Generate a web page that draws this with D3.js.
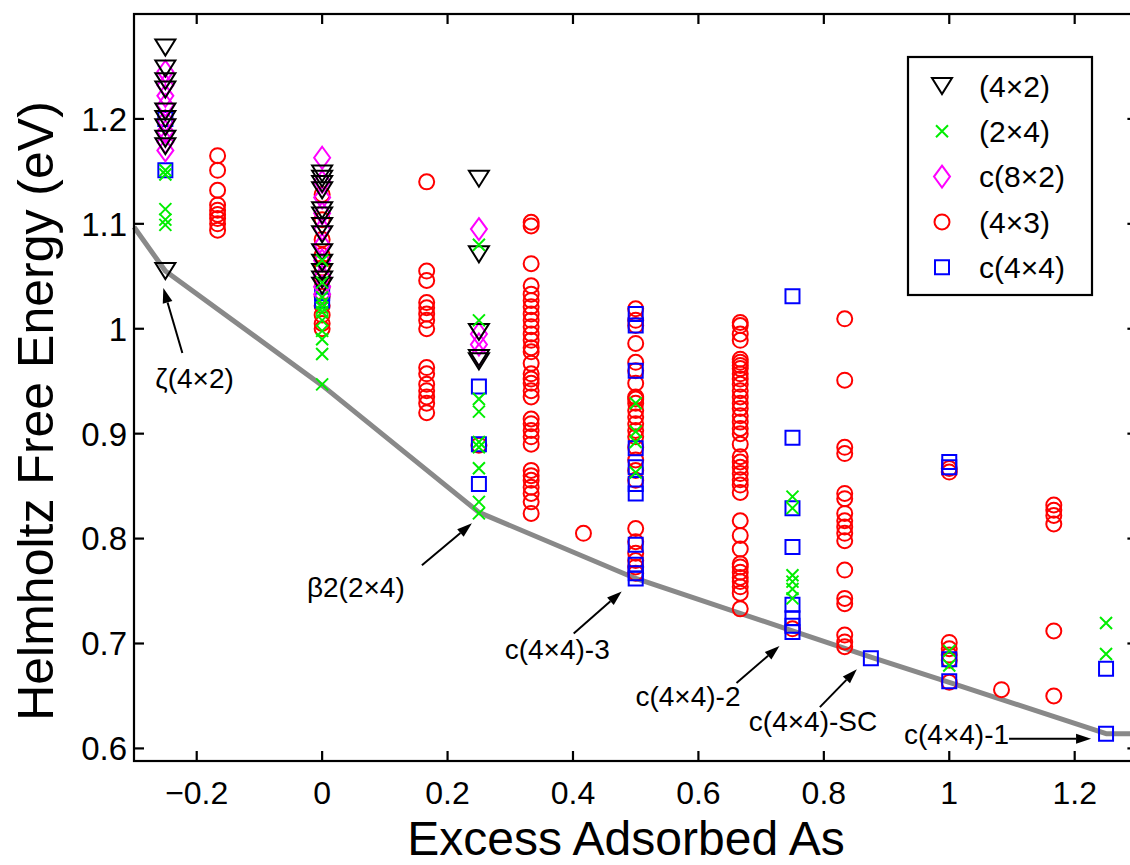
<!DOCTYPE html>
<html>
<head>
<meta charset="utf-8">
<script src="https://cdn.jsdelivr.net/npm/d3@7"></script>
<style>
  html, body { margin: 0; padding: 0; background: #fff; overflow: hidden; }
  svg { display: block; font-family: 'Liberation Sans', Arial, Helvetica, sans-serif; }
</style>
</head>
<body>
<div id="chart"></div>
<script>
// axis ticks
const xTicks = [-0.2, 0, 0.2, 0.4, 0.6, 0.8, 1, 1.2]
const yTicks = [0.6, 0.7, 0.8, 0.9, 1, 1.1, 1.2]

// each entry: [excess adsorbed As, [free energies in eV]]
const tri4x2 = [
  [-0.25, [1.268, 1.248, 1.236, 1.228, 1.207, 1.200, 1.192, 1.181, 1.174, 1.055]],
  [0, [1.148, 1.143, 1.138, 1.132, 1.113, 1.108, 1.098, 1.090, 1.073, 1.063, 1.054, 1.047, 1.041]],
  [0.25, [1.143, 1.071, 0.997, 0.972, 0.969]]
]

const x2x4 = [
  [-0.25, [1.151, 1.147, 1.114, 1.104, 1.099]],
  [0, [1.065, 1.044, 1.030, 1.024, 1.020, 1.016, 1.008, 0.998, 0.990, 0.976, 0.947]],
  [0.25, [1.080, 1.008, 0.933, 0.921, 0.892, 0.887, 0.867, 0.835, 0.824]],
  [0.5, [0.929, 0.902, 0.892, 0.863]],
  [0.75, [0.840, 0.829, 0.765, 0.759, 0.752, 0.743]],
  [1, [0.693, 0.679]],
  [1.25, [0.7195, 0.690]]
]

const c8x2 = [
  [-0.25, [1.245, 1.232, 1.222, 1.213, 1.198, 1.188, 1.178, 1.170]],
  [0, [1.163, 1.140, 1.125, 1.110, 1.095, 1.080, 1.065, 1.050, 1.040, 1.033]],
  [0.25, [1.095, 0.995, 0.985, 0.975]]
]

const r4x3 = [
  [-0.1667, [1.165, 1.151, 1.132, 1.118, 1.113, 1.109, 1.105, 1.100, 1.094]],
  [0, [1.128, 1.104, 1.085, 1.070, 1.058, 1.048, 1.040, 1.031, 1.022, 1.013, 1.005, 1.000]],
  [0.1667, [1.140, 1.055, 1.046, 1.025, 1.020, 1.014, 1.008, 1.000, 0.963, 0.957, 0.947, 0.941, 0.935, 0.929, 0.920]],
  [0.25, [0.889]],
  [0.3333, [1.1015, 1.098, 1.062, 1.041, 1.033, 1.027, 1.021, 1.014, 1.008, 1.002, 0.995, 0.989, 0.982, 0.978,
    0.967, 0.957, 0.952, 0.948, 0.941, 0.935, 0.914, 0.9095, 0.903, 0.897, 0.890, 0.865, 0.860, 0.8555, 0.849,
    0.843, 0.835, 0.824]],
  [0.4167, [0.805]],
  [0.5, [1.019, 1.008, 1.003, 0.986, 0.968, 0.960, 0.948, 0.935, 0.933, 0.929, 0.922, 0.916, 0.9095, 0.903, 0.897,
    0.887, 0.875, 0.865, 0.8555, 0.8095, 0.797, 0.786, 0.779, 0.773, 0.767]],
  [0.6667, [1.006, 1.003, 0.995, 0.989, 0.971, 0.968, 0.965, 0.962, 0.957, 0.952, 0.947, 0.941, 0.935, 0.929, 0.924,
    0.917, 0.911, 0.905, 0.900, 0.890, 0.878, 0.873, 0.868, 0.862, 0.856, 0.851, 0.844, 0.817, 0.803, 0.790, 0.776,
    0.773, 0.768, 0.763, 0.759, 0.754, 0.748, 0.733]],
  [0.75, [0.714]],
  [0.8333, [1.0095, 0.951, 0.887, 0.881, 0.843, 0.838, 0.824, 0.817, 0.811, 0.805, 0.798, 0.770, 0.743, 0.738, 0.708,
    0.7015, 0.697]],
  [1, [0.8667, 0.8634, 0.701, 0.695, 0.689, 0.684, 0.663]],
  [1.0833, [0.656]],
  [1.1667, [0.832, 0.827, 0.822, 0.814, 0.712, 0.650]]
]

const c4x4 = [
  [-0.25, [1.200, 1.151]],
  [0, [1.034, 1.027]],
  [0.25, [0.945, 0.890, 0.852]],
  [0.5, [1.014, 1.003, 0.960, 0.886, 0.868, 0.852, 0.843, 0.794, 0.775, 0.767, 0.762]],
  [0.75, [1.031, 0.896, 0.829, 0.792, 0.737, 0.724, 0.717, 0.711]],
  [0.875, [0.686]],
  [1, [0.873, 0.868, 0.685, 0.664]],
  [1.25, [0.676, 0.614]]
]

// stability line through the lowest structures
const hullX = [-0.3, -0.25, 0, 0.25, 0.5, 0.75, 0.875, 1, 1.25, 1.3]
const hullY = [1.097, 1.055, 0.946, 0.825, 0.762, 0.712, 0.687, 0.663, 0.614, 0.614]

// labelled structures and the point each arrow points at
const annotationLabels = ['ζ(4×2)', 'β2(2×4)', 'c(4×4)-3', 'c(4×4)-2', 'c(4×4)-SC', 'c(4×4)-1']
const annotationX = [-0.25, 0.25, 0.5, 0.75, 0.875, 1.25]
const annotationY = [1.055, 0.825, 0.762, 0.712, 0.687, 0.614]

const legendLabels = ['(4×2)', '(2×4)', 'c(8×2)', '(4×3)', 'c(4×4)']

// pixel offsets from the target point: arrow tip, arrow tail, text start
const annotationLayout = [
  { tip: [-2, 17], tail: [17, 82], text: [-10, 117] },
  { tip: [-7, 11], tail: [-57, 53], text: [-172, 85] },
  { tip: [-14, 13], tail: [-62, 55], text: [-131, 81] },
  { tip: [-13, 15], tail: [-56, 52], text: [-157, 75] },
  { tip: [-14, 12], tail: [-51, 50], text: [-122, 74] },
  { tip: [-15, 5], tail: [-97, 5], text: [-202, 10] }
]

const width = 1130
const height = 865
const plot = { left: 134, right: 1137.4, top: 14, bottom: 761 }

const markers = {
  triangle: () => 'M-10,-8L10,-8L0,8Z',
  cross: () => 'M-6,-6L6,6M-6,6L6,-6',
  diamond: () => 'M0,-11L8,0L0,11L-8,0Z',
  circle: () => 'M7.5,0A7.5,7.5 0 1,1 -7.5,0A7.5,7.5 0 1,1 7.5,0Z',
  square: () => 'M-7,-7L7,-7L7,7L-7,7Z'
}

// drawing order: circles at the back, crosses on top
const series = [
  { name: legendLabels[3], data: r4x3, shape: 'circle', color: '#ff0000' },
  { name: legendLabels[4], data: c4x4, shape: 'square', color: '#0000ff' },
  { name: legendLabels[2], data: c8x2, shape: 'diamond', color: '#ff00ff' },
  { name: legendLabels[0], data: tri4x2, shape: 'triangle', color: '#000000' },
  { name: legendLabels[1], data: x2x4, shape: 'cross', color: '#00ee00' }
]

const svg = d3.select('#chart')
  .append('svg')
  .attr('width', width)
  .attr('height', height)

const x = d3.scaleLinear().domain([-0.3, 1.3]).range([plot.left, plot.right])
const y = d3.scaleLinear().domain([0.588, 1.3]).range([plot.bottom, plot.top])

const fmt = t => String(t).replace('-', '\u2212')

// hull line
svg.append('path')
  .datum(hullX.map((v, i) => [v, hullY[i]]))
  .attr('fill', 'none')
  .attr('stroke', '#898989')
  .attr('stroke-width', 5)
  .attr('stroke-linejoin', 'round')
  .attr('d', d3.line().x(d => x(d[0])).y(d => y(d[1])))

// scatter markers
series.forEach(s => {
  const pts = []
  s.data.forEach(col => col[1].forEach(v => pts.push([col[0], v])))
  svg.append('g')
    .selectAll('path')
    .data(pts)
    .enter()
    .append('path')
    .attr('transform', d => `translate(${x(d[0])},${y(d[1])})`)
    .attr('d', markers[s.shape]())
    .attr('fill', 'none')
    .attr('stroke', s.color)
    .attr('stroke-width', 2)
})

// annotations with arrows
const ann = svg.append('g')
annotationLabels.forEach((label, i) => {
  const px = x(annotationX[i])
  const py = y(annotationY[i])
  const lay = annotationLayout[i]
  const tip = [px + lay.tip[0], py + lay.tip[1]]
  const tail = [px + lay.tail[0], py + lay.tail[1]]
  const dx = tip[0] - tail[0]
  const dy = tip[1] - tail[1]
  const len = Math.sqrt(dx * dx + dy * dy)
  const ux = dx / len
  const uy = dy / len
  const headLen = 15
  const headW = 5
  const base = [tip[0] - ux * headLen, tip[1] - uy * headLen]
  ann.append('line')
    .attr('x1', tail[0]).attr('y1', tail[1])
    .attr('x2', base[0]).attr('y2', base[1])
    .attr('stroke', '#000')
    .attr('stroke-width', 2)
  ann.append('path')
    .attr('d', `M${tip[0]},${tip[1]}L${base[0] - uy * headW},${base[1] + ux * headW}L${base[0] + uy * headW},${base[1] - ux * headW}Z`)
    .attr('fill', '#000')
  ann.append('text')
    .attr('x', px + lay.text[0])
    .attr('y', py + lay.text[1])
    .attr('font-size', 28)
    .attr('fill', '#000')
    .text(label)
})

// axes box
const axisG = svg.append('g').attr('stroke', '#000').attr('stroke-width', 2.2)
axisG.append('rect')
  .attr('x', plot.left)
  .attr('y', plot.top)
  .attr('width', plot.right - plot.left)
  .attr('height', plot.bottom - plot.top)
  .attr('fill', 'none')

const tickLen = 10
xTicks.forEach(t => {
  axisG.append('line').attr('x1', x(t)).attr('x2', x(t)).attr('y1', plot.bottom).attr('y2', plot.bottom - tickLen)
  axisG.append('line').attr('x1', x(t)).attr('x2', x(t)).attr('y1', plot.top).attr('y2', plot.top + tickLen)
})
yTicks.forEach(t => {
  axisG.append('line').attr('x1', plot.left).attr('x2', plot.left + tickLen).attr('y1', y(t)).attr('y2', y(t))
  axisG.append('line').attr('x1', plot.right).attr('x2', plot.right - tickLen).attr('y1', y(t)).attr('y2', y(t))
})

svg.append('g')
  .selectAll('text')
  .data(xTicks)
  .enter()
  .append('text')
  .attr('x', d => x(d))
  .attr('y', plot.bottom + 43)
  .attr('text-anchor', 'middle')
  .attr('font-size', 32)
  .text(fmt)

svg.append('g')
  .selectAll('text')
  .data(yTicks)
  .enter()
  .append('text')
  .attr('x', plot.left - 7)
  .attr('y', d => y(d))
  .attr('dy', '0.36em')
  .attr('text-anchor', 'end')
  .attr('font-size', 33)
  .text(fmt)

// axis titles
svg.append('text')
  .attr('x', 626)
  .attr('y', 854.5)
  .attr('text-anchor', 'middle')
  .attr('font-size', 48)
  .text('Excess Adsorbed As')

svg.append('text')
  .attr('transform', 'translate(53,411) rotate(-90)')
  .attr('text-anchor', 'middle')
  .attr('font-size', 50)
  .text('Helmholtz Free Energy (eV)')

// legend
const legend = svg.append('g')
legend.append('rect')
  .attr('x', 908)
  .attr('y', 57)
  .attr('width', 184)
  .attr('height', 238)
  .attr('fill', '#fff')
  .attr('stroke', '#000')
  .attr('stroke-width', 2.2)

legendLabels.forEach((name, i) => {
  const s = series.find(d => d.name === name)
  const cy = 86 + i * 45.3
  legend.append('path')
    .attr('transform', `translate(942,${cy})`)
    .attr('d', markers[s.shape]())
    .attr('fill', 'none')
    .attr('stroke', s.color)
    .attr('stroke-width', 2)
  legend.append('text')
    .attr('x', 979)
    .attr('y', cy)
    .attr('dy', '0.36em')
    .attr('font-size', 30)
    .text(name)
})
</script>
</body>
</html>
